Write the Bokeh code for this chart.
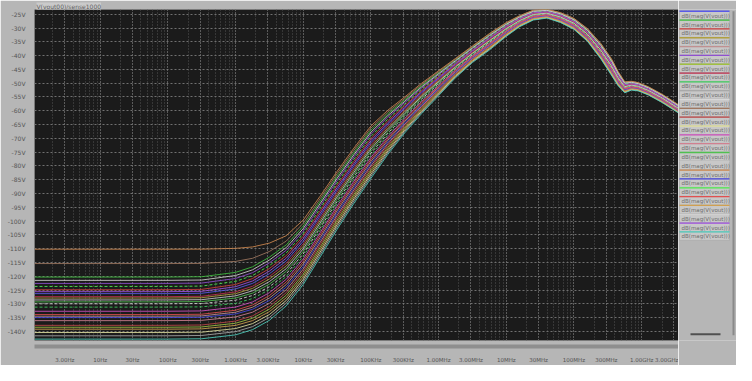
import numpy as np
from bokeh.plotting import figure
from bokeh.models import (Range1d, FixedTicker, Grid, Title, CustomJSTickFormatter,
                          ColumnDataSource, LogAxis)
from bokeh.layouts import row
from bokeh.embed import file_html
from bokeh.resources import INLINE
from bokeh.core.properties import value

# ---------------- data ----------------
freq_hz = [1.07, 10, 100, 316, 1000, 1780, 3160, 5620, 1e4, 1.78e4, 3.16e4, 5.62e4,
           1e5, 1.78e5, 3.16e5, 5.62e5, 1e6, 1.78e6, 3.16e6, 5.62e6, 1e7, 1.58e7,
           2.51e7, 3.98e7, 6.31e7, 1e8, 1.58e8, 2.51e8, 3.55e8, 4.47e8, 5.62e8,
           7.08e8, 8.91e8, 1.26e9, 2e9, 3.5e9]
# centre of the bundle of curves (rising part, without the floor), dB
hf_center_db = [-200, -180, -158, -146, -134, -129.5, -124.5, -119, -111.5, -102, -92.5, -83.5,
                -75, -67.8, -61.5, -55.5, -50, -44.5, -39.5, -35, -30.5, -27.5,
                -25.3, -24.8, -26.2, -28.5, -32.5, -38.5, -44, -48.3, -51.5,
                -50.9, -51.3, -52.8, -55.5, -59.3]
# half width of the bundle, dB
hf_spread_db = [12, 12, 12, 12, 12.5, 12.5, 12.5, 12, 11.5, 11, 10.5, 10,
                9.5, 8, 6.5, 5.5, 4.5, 3.5, 3, 3, 2.5, 2,
                1.8, 1.6, 1.8, 2, 2.3, 2.8, 3, 2.6, 2,
                1.6, 1.5, 1.5, 1.5, 1.5]

# one entry per trace, in legend order
trace_names = ["dB(mag(V(vout)))"] * 26
floor_db = [-126.3, -120.3, -124.9, -127.9, -134.5, -122.6, -138.5, -127.4, -131.2,
            -141.6, -130.0, -115.4, -137.8, -140.4, -132.7, -136.1, -129.3, -128.6,
            -110.2, -135.0, -123.7, -133.9, -139.2, -121.5, -125.6, -142.8]
band_pos = [0.36, 0.84, 0.52, 0.20, -0.36, 0.68, -0.68, 0.28, -0.12, -0.92, -0.04,
            0.92, -0.60, -0.84, -0.20, -0.52, 0.04, 0.12, 1.0, -0.44, 0.60, -0.28,
            -0.76, 0.76, 0.44, -1.0]
trace_colors = ["#5a5ae8", "#40c040", "#d04040", "#b0a040", "#c09090", "#9050d0",
                "#a0c040", "#c03050", "#40d060", "#a8a8a8", "#d8d8d8", "#a07860",
                "#c04848", "#e0e0a0", "#d050c0", "#d08090", "#50c050", "#c8c8c8",
                "#d08a50", "#4848e0", "#50f050", "#e05050", "#d0a050", "#d0d0d0",
                "#a050e0", "#50d0c0"]
dashed = [8, 10, 20]

y_ticks = list(range(-140, -24, 5))
x_tick_values = [3, 10, 30, 100, 300, 1e3, 3e3, 1e4, 3e4, 1e5, 3e5, 1e6, 3e6,
                 1e7, 3e7, 1e8, 3e8, 1e9, 3e9]
x_tick_labels = ["3.00Hz", "10Hz", "30Hz", "100Hz", "300Hz", "1.00KHz", "3.00KHz",
                 "10KHz", "30KHz", "100KHz", "300KHz", "1.00MHz", "3.00MHz", "10MHz",
                 "30MHz", "100MHz", "300MHz", "1.00GHz", "3.00GHz"]

# ---------------- figure ----------------
FONT = "DejaVu Sans"
GREY = "#b6b6b6"

p = figure(width=678, height=365, x_axis_type="log",
           x_range=Range1d(1.07, 3.5e9), y_range=Range1d(-143.3, -23.28),
           output_backend="svg", toolbar_location=None, x_axis_location=None,
           min_border_left=34, min_border_right=0, min_border_top=0,
           min_border_bottom=0, background_fill_color="#1b1b1b",
           border_fill_color=GREY, outline_line_color=None)

t = Title(text="V(vout00)/sense1000", text_font=FONT, text_font_size="6px",
          text_font_style="normal", text_color="#606060",
          background_fill_color="#cacaca", standoff=0, offset=2)
p.add_layout(t, "above")

# grids
minor_x = [m * 10.0 ** e for e in range(0, 10) for m in range(1, 10)]
p.xgrid.ticker = FixedTicker(ticks=minor_x)
p.xgrid.grid_line_color = "#555555"
p.xgrid.grid_line_dash = "1 2"
major_grid = Grid(dimension=0, ticker=FixedTicker(ticks=x_tick_values),
                  grid_line_color="#808080", grid_line_dash="1 2")
p.add_layout(major_grid)
p.ygrid.ticker = FixedTicker(ticks=y_ticks)
p.ygrid.grid_line_color = "#707070"
p.ygrid.grid_line_dash = "2 2"

# x axes: a blank spacer, then a "scrollbar" line with the labels under it
spacer = LogAxis(ticker=FixedTicker(ticks=[]), axis_line_color=None,
                 major_tick_line_color=None, minor_tick_line_color=None,
                 axis_label=" ", axis_label_text_font_size="3px",
                 axis_label_standoff=0)
p.add_layout(spacer, "below")
xa = LogAxis(ticker=FixedTicker(ticks=x_tick_values))
xa.formatter = CustomJSTickFormatter(
    args=dict(tv=x_tick_values, tl=x_tick_labels),
    code="""let b=0, bd=1e9;
for (let i=0;i<tv.length;i++){const d=Math.abs(Math.log10(tv[i])-Math.log10(tick)); if(d<bd){bd=d;b=i;}}
return tl[b];""")
xa.axis_line_color = "#8e8e8e"
xa.axis_line_width = 4
xa.major_label_standoff = 4
p.add_layout(xa, "below")

p.yaxis.ticker = FixedTicker(ticks=y_ticks)
p.yaxis.formatter = CustomJSTickFormatter(code="return tick.toFixed(0) + 'V';")
p.yaxis.axis_line_color = None
p.yaxis.major_label_standoff = 3
for ax in (xa, p.yaxis[0]):
    ax.major_tick_line_color = None
    ax.minor_tick_line_color = None
    ax.major_label_text_font = FONT
    ax.major_label_text_font_size = "6px"
    ax.major_label_text_color = "#555555"
xa.major_label_text_font_size = "5.5px"

# traces
f = np.array(freq_hz)
c = np.array(hf_center_db)
s = np.array(hf_spread_db)
for i in range(len(floor_db)):
    hf = c + band_pos[i] * s
    lvl = 10 * np.log10(10 ** (floor_db[i] / 10) + 10 ** (hf / 10))
    src = ColumnDataSource(dict(f=f, v=lvl))
    p.line("f", "v", source=src, line_color=trace_colors[i], line_width=1,
           line_alpha=0.85, line_dash="3 2" if i in dashed else "solid")

# ---------------- legend panel ----------------
n = len(trace_names)
leg = figure(width=58, height=365, x_range=Range1d(0, 58), y_range=Range1d(37.5, 0),
             output_backend="svg", toolbar_location=None,
             min_border_left=0, min_border_right=0, min_border_top=8,
             min_border_bottom=20, background_fill_color=GREY,
             border_fill_color=GREY, outline_line_color=None)
leg.axis.visible = False
leg.grid.visible = False
idx = np.arange(n)
lsrc = ColumnDataSource(dict(top=idx + 0.2, bottom=idx + 1.15, mid=idx + 0.7,
                             col=trace_colors, name=trace_names))
leg.quad(left=1, right=51, top="top", bottom="bottom", source=lsrc,
         fill_color="#c8c8c8", line_color="#a4a4a4", line_width=0.5)
leg.segment(x0=1, x1=51, y0="top", y1="top", source=lsrc, line_color="col",
            line_width=1.3)
leg.text(x=3, y="mid", text="name", source=lsrc, text_font=value(FONT),
         text_font_size="5.5px", text_color="#6e6e6e", text_baseline="middle")
# scrollbar decorations
leg.segment(x0=[55], x1=[55], y0=[0.2], y1=[36.9], line_color="#8a8a8a", line_width=2)
leg.segment(x0=[12], x1=[42], y0=[36.8], y1=[36.8], line_color="#505050", line_width=2)

layout = row(p, leg)
open("out.html", "w").write(file_html(layout, INLINE))
